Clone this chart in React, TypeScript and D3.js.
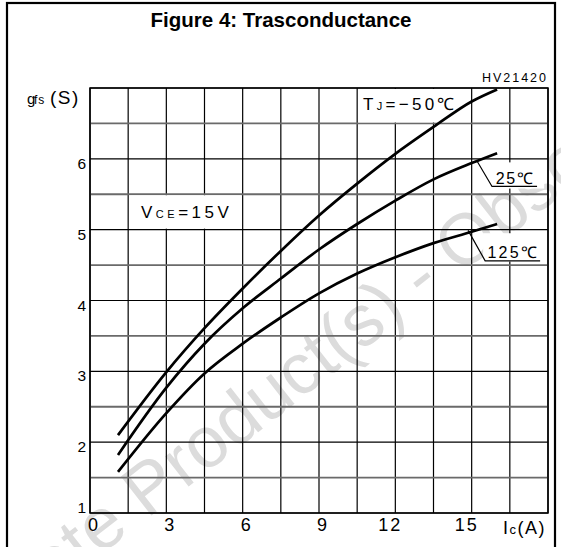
import React from 'react'
import * as d3 from 'd3'

// chart values
const icValues = [1.1, 3, 4.5, 6, 7.5, 9, 10.5, 12, 13.5, 15, 16]
const gfsMinus50 = [2.1, 2.99, 3.61, 4.17, 4.7, 5.2, 5.65, 6.07, 6.45, 6.81, 6.98]
const gfs25 = [1.82, 2.77, 3.39, 3.89, 4.31, 4.72, 5.08, 5.41, 5.71, 5.94, 6.08]
const gfs125 = [1.58, 2.41, 2.97, 3.39, 3.76, 4.1, 4.38, 4.61, 4.81, 4.97, 5.08]

const xTickLabels = [0, 3, 6, 9, 12, 15]
const yTickLabels = [1, 2, 3, 4, 5, 6]

const FONT = '"Liberation Sans", Arial, sans-serif'

function App() {
  const width = 561
  const height = 547

  // scales
  const x = d3.scaleLinear().domain([0, 18]).range([90, 548])
  const y = d3.scaleLinear().domain([1, 7]).range([513, 88])

  const xGrid = d3.range(0, 18.01, 1.5)
  const yGrid = d3.range(1, 7.01, 0.5)

  const line = d3
    .line<number>()
    .x((d, i) => x(icValues[i]))
    .y(d => y(d))
    .curve(d3.curveMonotoneX)

  const series = [gfsMinus50, gfs25, gfs125]

  return (
    <svg
      width={width}
      height={height}
      style={{ position: 'absolute', left: 0, top: 0, background: '#fff' }}
      fontFamily={FONT}
    >
      <defs>
        <clipPath id="page">
          <rect x={0} y={0} width={width} height={height} />
        </clipPath>
      </defs>
      <rect x={0} y={0} width={width} height={height} fill="#fff" />

      {/* watermark */}
      <g clipPath="url(#page)">
        <text
          transform="translate(422,280) rotate(-38)"
          textAnchor="middle"
          dominantBaseline="middle"
          fontSize={72}
          fill="#dcdcdc"
        >
          Obsolete Product(s) - Obsolete Product(s)
        </text>
      </g>

      {/* outer frame */}
      <rect x={7} y={3} width={548} height={560} fill="none" stroke="#000" strokeWidth={2.2} />

      <text x={281} y={27} textAnchor="middle" fontSize={20.5} fontWeight="bold">
        Figure 4: Trasconductance
      </text>

      {/* grid */}
      {xGrid.map(v => (
        <line key={'gx' + v} x1={x(v)} x2={x(v)} y1={y(1)} y2={y(7)} stroke="#000" strokeWidth={1.2} />
      ))}
      {yGrid.map(v => (
        <line
          key={'gy' + v}
          x1={x(0)}
          x2={x(18)}
          y1={y(v)}
          y2={y(v)}
          stroke={v % 1 === 0 ? '#000' : '#6a6a6a'}
          strokeWidth={v % 1 === 0 ? 1.2 : 1.8}
        />
      ))}
      <rect x={x(0)} y={y(7)} width={x(18) - x(0)} height={y(1) - y(7)} fill="none" stroke="#000" strokeWidth={1.5} />

      {/* white label boxes */}
      <rect x={x(1.5) + 1} y={y(5.5) + 1} width={x(6) - x(1.5) - 2} height={y(5) - y(5.5) - 2} fill="#fff" />
      <rect x={x(10.5) + 1} y={y(7) + 1} width={x(15) - x(10.5) - 2} height={y(6.5) - y(7) - 2} fill="#fff" />
      <rect x={x(15.75)} y={y(5.95)} width={x(17.85) - x(15.75)} height={y(5.58) - y(5.95)} fill="#fff" />
      <rect x={x(15.45)} y={y(4.95)} width={x(17.85) - x(15.45)} height={y(4.55) - y(4.95)} fill="#fff" />

      {/* curves */}
      {series.map((s, i) => (
        <path key={i} d={line(s) || ''} fill="none" stroke="#000" strokeWidth={2.7} strokeLinecap="butt" />
      ))}

      {/* leaders */}
      <polyline
        points={`${x(15.21)},${y(5.97)} ${x(15.8)},${y(5.61)} ${x(17.57)},${y(5.61)}`}
        fill="none"
        stroke="#000"
        strokeWidth={1.2}
      />
      <polyline
        points={`${x(14.86)},${y(4.99)} ${x(15.53)},${y(4.56)} ${x(17.69)},${y(4.56)}`}
        fill="none"
        stroke="#000"
        strokeWidth={1.2}
      />

      {/* annotations */}
      <text x={x(15.95)} y={y(5.65)} fontSize={16} letterSpacing={1.5}>25℃</text>
      <text x={x(15.62)} y={y(4.6)} fontSize={16} letterSpacing={2.2}>125℃</text>
      <text x={363} y={110} fontSize={17} letterSpacing={3.3}>
        T<tspan fontSize={11}>J</tspan>=−50℃
      </text>
      <text x={141} y={218} fontSize={17} letterSpacing={3.5}>
        V<tspan fontSize={11}>CE</tspan>=15V
      </text>
      <text x={548} y={82} textAnchor="end" fontSize={12.5} letterSpacing={2}>HV21420</text>

      {/* axis labels */}
      <text y={104} fontSize={19}>
        <tspan x={27} fontSize={15}>g</tspan>
        <tspan x={34} fontSize={12} letterSpacing={1}>fs</tspan>
        <tspan x={50} letterSpacing={1.5}>(S)</tspan>
      </text>
      <text x={503} y={534} fontSize={18} letterSpacing={1.5}>
        I<tspan fontSize={13}>c</tspan>(A)
      </text>

      {/* ticks */}
      {yTickLabels.map(v => (
        <text key={'yl' + v} x={86} y={y(v) + (v === 1 ? 0 : 10)} textAnchor="end" fontSize={15.5}>
          {v}
        </text>
      ))}
      {xTickLabels.map(v => (
        <text
          key={'xl' + v}
          x={x(v) + (String(v).length > 1 ? -5 : 3)}
          y={531}
          textAnchor="middle"
          fontSize={18}
          letterSpacing={String(v).length > 1 ? 2 : 0}
        >
          {v}
        </text>
      ))}
    </svg>
  )
}

export default App
